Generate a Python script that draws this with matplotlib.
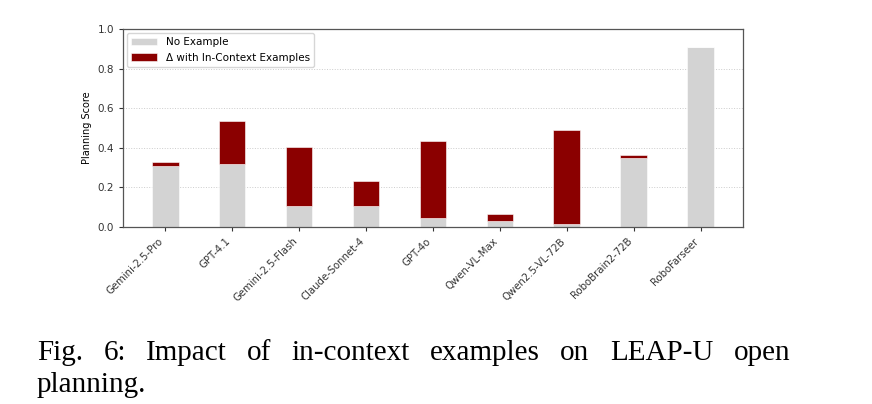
import matplotlib
matplotlib.use('Agg')
from matplotlib import pyplot as plt
import numpy as np

models = ['Gemini-2.5-Pro', 'GPT-4.1', 'Gemini-2.5-Flash', 'Claude-Sonnet-4', 'GPT-4o',
          'Qwen-VL-Max', 'Qwen2.5-VL-72B', 'RoboBrain2-72B', 'RoboFarseer']
no_example = [0.31, 0.32, 0.105, 0.105, 0.047, 0.032, 0.014, 0.35, 0.91]
with_examples = [0.328, 0.535, 0.403, 0.233, 0.433, 0.067, 0.492, 0.365, 0.91]
delta = [w - n for w, n in zip(with_examples, no_example)]

caption_line1 = ['Fig.', '6:', 'Impact', 'of', 'in-context', 'examples', 'on', 'LEAP-U', 'open']
caption_line2 = 'planning.'

fig = plt.figure(figsize=(8.72, 4.04), dpi=100)
ax = fig.add_axes([0.141, 0.438, 0.711, 0.490])

x = np.arange(len(models))
ax.bar(x, no_example, width=0.4, color='#d3d3d3', edgecolor='white', linewidth=0.4,
       label='No Example', zorder=2)
ax.bar(x, delta, width=0.4, bottom=no_example, color='#8b0000', edgecolor='white',
       linewidth=0.4, label='Δ with In-Context Examples', zorder=2)

ax.set_xlim(-0.63, 8.63)
ax.set_ylim(0, 1.0)
ax.set_yticks(np.arange(0, 1.01, 0.2))
ax.set_xticks(x)
ax.set_xticklabels(models, rotation=45, ha='right', fontsize=7.3)
ax.tick_params(axis='y', labelsize=7.5, length=3, colors='#333333')
ax.tick_params(axis='x', length=3, colors='#333333')
ax.set_ylabel('Planning Score', fontsize=7)
ax.grid(axis='y', linestyle=':', color='#cccccc', linewidth=0.7, zorder=0)
for s in ax.spines.values():
    s.set_color('#555555')
    s.set_linewidth(0.9)

ax.legend(loc='upper left', fontsize=7.5, frameon=True, edgecolor='#cccccc',
          handlelength=2.5, borderaxespad=0.4)

# caption, justified across the first line
left, right = 37 / 872, 790 / 872
fig.canvas.draw()
renderer = fig.canvas.get_renderer()
texts = [fig.text(0, 0.109, w, fontsize=21, family='Liberation Serif', va='baseline')
         for w in caption_line1]
widths = [t.get_window_extent(renderer).width / fig.bbox.width for t in texts]
gap = (right - left - sum(widths)) / (len(texts) - 1)
pos = left
for t, w in zip(texts, widths):
    t.set_x(pos)
    pos += w + gap
fig.text(left, 0.030, caption_line2, fontsize=21, family='Liberation Serif', va='baseline')

plt.savefig('out.png', dpi=100)
